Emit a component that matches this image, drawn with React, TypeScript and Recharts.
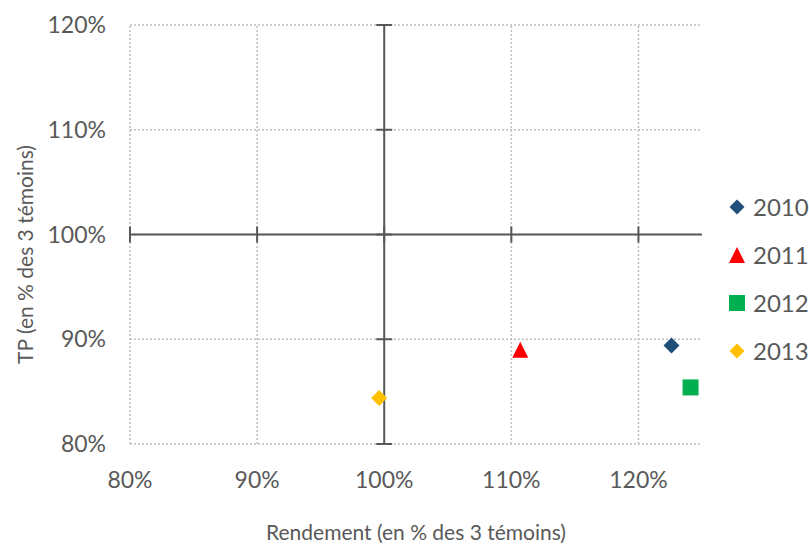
import React from 'react';
import {
  ScatterChart,
  Scatter,
  XAxis,
  YAxis,
  ReferenceLine,
  ReferenceDot,
  Legend,
  Label,
} from 'recharts';

// ---- data ----
const years = ['2010', '2011', '2012', '2013'];
const rendement = [1.226, 1.107, 1.241, 0.996];
const tp = [0.894, 0.89, 0.854, 0.844];
const xTicks = [0.8, 0.9, 1.0, 1.1, 1.2];
const yTicks = [0.8, 0.9, 1.0, 1.1, 1.2];
const xDomain = [0.8, 1.25];
const yDomain = [0.8, 1.2];
const crossX = 1.0;
const crossY = 1.0;
const xTitle = 'Rendement (en % des 3 témoins)';
const yTitle = 'TP (en % des 3 témoins)';

// ---- styles ----
const TEXT = '#595959';
const AXIS = '#595959';
const GRID = '#BFBFBF';
const FONT = "Lato, 'Open Sans', sans-serif";
const STYLE: Record<string, { color: string; shape: string }> = {
  '2010': { color: '#1F4E79', shape: 'diamond' },
  '2011': { color: '#FF0000', shape: 'triangle' },
  '2012': { color: '#00B050', shape: 'square' },
  '2013': { color: '#FFC000', shape: 'diamond' },
};

const fmt = (v: number) => `${Math.round(v * 100)}%`;

function Marker({ shape, cx, cy, color, s }: any) {
  if (shape === 'diamond') {
    return (
      <polygon
        points={`${cx},${cy - s} ${cx + s},${cy} ${cx},${cy + s} ${cx - s},${cy}`}
        fill={color}
      />
    );
  }
  if (shape === 'triangle') {
    return (
      <polygon
        points={`${cx},${cy - s} ${cx + s},${cy + s} ${cx - s},${cy + s}`}
        fill={color}
      />
    );
  }
  return <rect x={cx - s} y={cy - s} width={2 * s} height={2 * s} fill={color} />;
}

const seriesData = years.map((name, i) => ({
  name,
  points: [{ x: rendement[i], y: tp[i] }],
}));

const renderLegend = () => (
  <div style={{ display: 'flex', flexDirection: 'column', fontFamily: FONT }}>
    {years.map((name) => (
      <div key={name} style={{ height: 48, display: 'flex', alignItems: 'center' }}>
        <svg width={18} height={18} style={{ display: 'block' }}>
          <Marker shape={STYLE[name].shape} cx={9} cy={9} color={STYLE[name].color} s={STYLE[name].shape === 'diamond' ? 7.5 : 8} />
        </svg>
        <span style={{ marginLeft: 7, fontSize: 24, color: TEXT, lineHeight: '48px' }}>{name}</span>
      </div>
    ))}
  </div>
);

const YTitle = (props: any) => {
  const vb = props.viewBox || {};
  const x = vb.x + 24;
  const y = vb.y + vb.height / 2 + 20;
  return (
    <text
      x={x}
      y={y}
      transform={`rotate(-90, ${x}, ${y})`}
      textAnchor="middle"
      dominantBaseline="central"
      fill={TEXT}
      fontSize={21}
      fontFamily={FONT}
    >
      {yTitle}
    </text>
  );
};

const crossTickShape = (orient: 'h' | 'v') => (p: any) =>
  orient === 'h' ? (
    <line x1={p.cx - 8} x2={p.cx + 8} y1={p.cy} y2={p.cy} stroke={AXIS} strokeWidth={2} />
  ) : (
    <line x1={p.cx} x2={p.cx} y1={p.cy - 8} y2={p.cy + 8} stroke={AXIS} strokeWidth={2} />
  );

export default function App() {
  return (
    <div
      style={{
        position: 'absolute',
        left: 0,
        top: 0,
        width: 809,
        height: 545,
        background: '#fff',
        fontFamily: FONT,
      }}
    >
      <ScatterChart
        width={809}
        height={545}
        margin={{ top: 25, right: 107, bottom: 0, left: 0 }}
      >
        <XAxis
          type="number"
          dataKey="x"
          domain={xDomain}
          ticks={xTicks}
          interval={0}
          tickFormatter={fmt}
          axisLine={false}
          tickLine={false}
          tickSize={0}
          tickMargin={28}
          height={101}
          tick={{ fill: TEXT, fontSize: 23, fontFamily: FONT }}
        >
          <Label value={xTitle} position="insideBottom" offset={5} fill={TEXT} fontSize={21} fontFamily={FONT} />
        </XAxis>
        <YAxis
          type="number"
          dataKey="y"
          domain={yDomain}
          ticks={yTicks}
          interval={0}
          tickFormatter={fmt}
          axisLine={false}
          tickLine={false}
          tickSize={0}
          tickMargin={24}
          width={130}
          tick={{ fill: TEXT, fontSize: 23, fontFamily: FONT }}
        >
          <Label content={YTitle} />
        </YAxis>
        {/* dotted gridlines at tick values */}
        {xTicks.map((v) => (
          <ReferenceLine key={'gx' + v} x={v} stroke={GRID} strokeWidth={1.5} strokeDasharray="2 2" />
        ))}
        {yTicks.map((v) => (
          <ReferenceLine key={'gy' + v} y={v} stroke={GRID} strokeWidth={1.5} strokeDasharray="2 2" />
        ))}
        {/* crossing axes */}
        <ReferenceLine x={crossX} stroke={AXIS} strokeWidth={2} />
        <ReferenceLine y={crossY} stroke={AXIS} strokeWidth={2} />
        {yTicks.map((v) => (
          <ReferenceDot key={'yt' + v} x={crossX} y={v} ifOverflow="visible" shape={crossTickShape('h')} />
        ))}
        {xTicks.map((v) => (
          <ReferenceDot key={'xt' + v} x={v} y={crossY} ifOverflow="visible" shape={crossTickShape('v')} />
        ))}
        {seriesData.map((s) => (
          <Scatter
            key={s.name}
            name={s.name}
            data={s.points}
            fill={STYLE[s.name].color}
            isAnimationActive={false}
            shape={(p: any) => (
              <Marker shape={STYLE[s.name].shape} cx={p.cx} cy={p.cy} color={STYLE[s.name].color} s={8} />
            )}
          />
        ))}
        <Legend
          layout="vertical"
          align="center"
          verticalAlign="middle"
          wrapperStyle={{ left: 728, top: 183, width: 81 }}
          content={renderLegend}
        />
      </ScatterChart>
    </div>
  );
}
